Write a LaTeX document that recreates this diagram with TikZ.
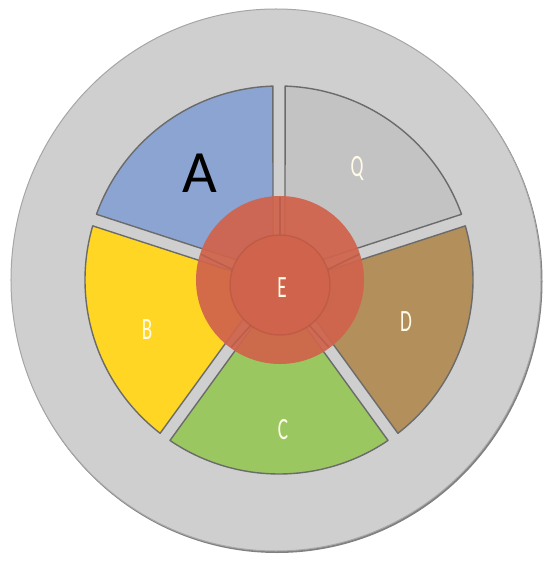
\documentclass[tikz,border=0pt]{standalone}
\usepackage{graphicx}
\usepackage{fontspec}
\setmainfont{Carlito}
\usetikzlibrary{calc}

\definecolor{ringgray}{HTML}{CFCFCF}
\definecolor{secA}{HTML}{8CA4D2}
\definecolor{secQ}{HTML}{C3C3C3}
\definecolor{secB}{HTML}{FFD624}
\definecolor{secC}{HTML}{9AC760}
\definecolor{secD}{HTML}{B38F5B}
\definecolor{secE}{HTML}{D0634B}
\definecolor{lbltext}{HTML}{FFFBE8}

\newcommand{\slim}[1]{\scalebox{0.62}[1]{#1}}

\begin{document}
\begin{tikzpicture}[x=1pt, y=1pt,
    sector/.style={draw=black!58, line width=1.4pt, line join=round},
    lbl/.style={text=lbltext, font=\fontsize{31}{31}\selectfont, inner sep=0pt}]
    \useasboundingbox (-279,-282) rectangle (268,280);
    \fill[white] (-279,-282) rectangle (268,280);

    % outer ring, with a soft shadow at lower right
    \fill[black!50] (-2,-1.5) ellipse [x radius=265.5, y radius=271.5];
    \draw[fill=ringgray, draw=black!35, line width=1pt] (-3,0) ellipse [x radius=265, y radius=271];

    % five sectors with gaps
    \foreach \a/\col in {18/secQ, 90/secA, 162/secB, 234/secC, 306/secD}
        \draw[sector, fill=\col] ({\a+36}:10.2) -- ({\a+1.8}:194)
            arc[start angle=\a+1.8, end angle=\a+70.2, radius=194] -- cycle;

    % centre disc
    \fill[secE, opacity=0.93] (1,0) circle[radius=84];
    \foreach \a in {90,18,-54,-126,162}
        \draw[secE!75!black, line width=1.6pt, opacity=0.35] ($(1,-5)+(\a:50)$) -- ($(1,0)+(\a:83)$);
    \draw[secE!80!black, line width=1.4pt, draw opacity=0.4, fill=secE] (1,-5) circle[radius=50];

    \node[font=\fontsize{60}{60}\selectfont, inner sep=0pt] (la) at (-79,107) {A};
    \node[lbl] (lq) at (78,112) {\slim{Q}};
    \node[lbl] (lb) at (-132,-50) {\slim{B}};
    \node[lbl] (ld) at (127,-42) {\slim{D}};
    \node[lbl] (lc) at (4,-150) {\slim{C}};
    \node[lbl] (le) at (3,-8) {\slim{E}};
\end{tikzpicture}
\end{document}
